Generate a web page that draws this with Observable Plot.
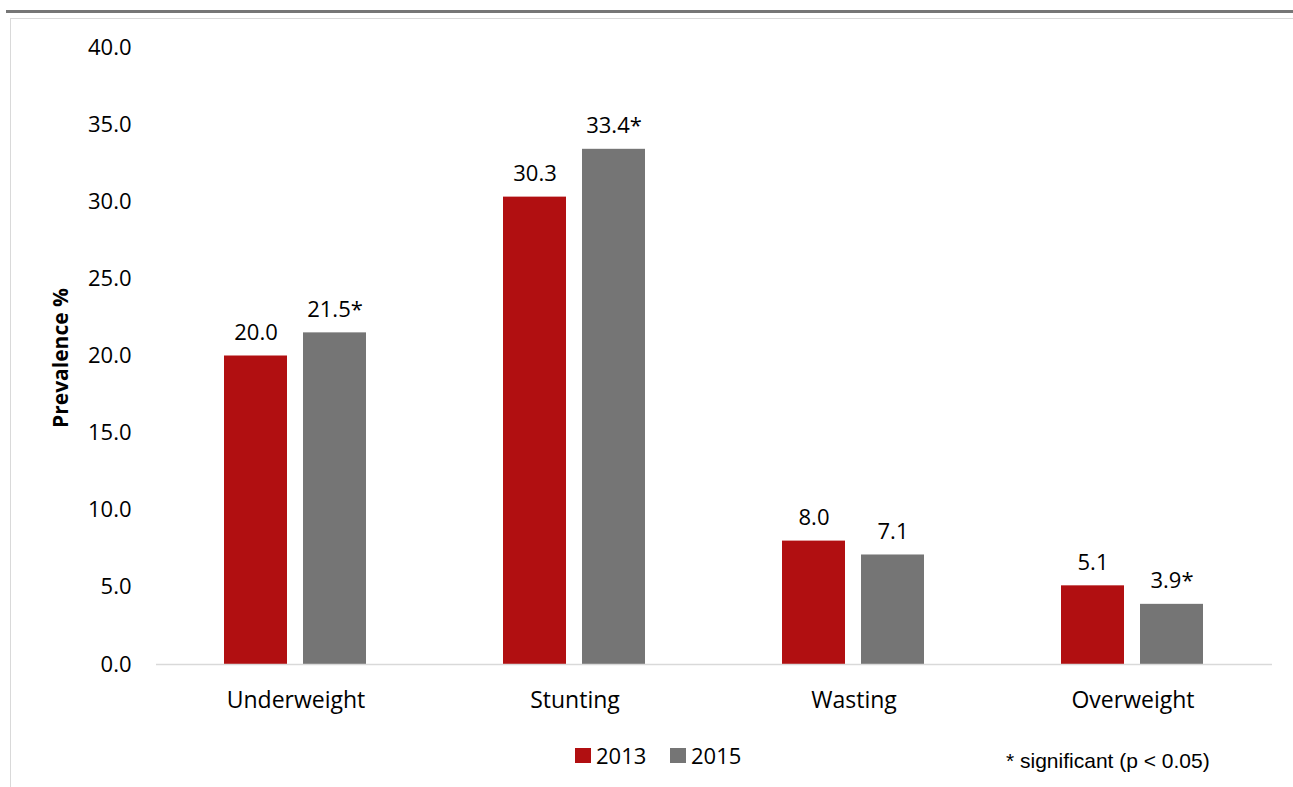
<!DOCTYPE html>
<html>
<head>
<meta charset="utf-8">
<script src="https://cdn.jsdelivr.net/npm/d3@7"></script>
<script src="https://cdn.jsdelivr.net/npm/@observablehq/plot@0.6"></script>
<style>
  html, body { margin: 0; padding: 0; background: #fff; }
  #wrap { position: relative; width: 1293px; height: 787px; overflow: hidden; font-family: "Open Sans", sans-serif; }
  #topline { position: absolute; left: 6px; right: 0; top: 10px; height: 2.5px; background: #767676; }
  #frame { position: absolute; left: 10px; right: -5px; top: 18px; bottom: -5px; border-left: 1.5px solid #d9d9d9; border-top: 1.5px solid #d9d9d9; }
  #chart { position: absolute; left: 0; top: 0; }
  .leg { position: absolute; font-size: 22px; color: #000; line-height: 1; }
  .sw { position: absolute; width: 16px; height: 15px; }
  #note { position: absolute; left: 1006px; top: 750px; font-family: "Liberation Sans", Arial, sans-serif; font-size: 21px; line-height: 1; color: #000; }
</style>
</head>
<body>
<div id="wrap">
  <div id="topline"></div>
  <div id="frame"></div>
  <div id="chart"></div>
  <div id="legend"></div>
  <div id="note"></div>
</div>
<script>
const categories = ["Underweight", "Stunting", "Wasting", "Overweight"];
const years = ["2013", "2015"];
const values2013 = [20.0, 30.3, 8.0, 5.1];
const values2015 = [21.5, 33.4, 7.1, 3.9];
const sig2013 = [false, false, false, false];
const sig2015 = [true, true, false, true];
const yTicks = [0, 5, 10, 15, 20, 25, 30, 35, 40];
const colors = ["#B10F11", "#757575"];
const yLabel = "Prevalence %";
const noteText = "* significant (p < 0.05)";

const data = [];
categories.forEach((c, i) => {
  data.push({category: c, year: years[0], value: values2013[i], sig: sig2013[i]});
  data.push({category: c, year: years[1], value: values2015[i], sig: sig2015[i]});
});

const chart = Plot.plot({
  width: 1293,
  height: 787,
  marginTop: 47,
  marginBottom: 123,
  marginLeft: 156,
  marginRight: 21,
  style: {fontFamily: "'Open Sans', sans-serif", fontSize: "22px", color: "#000", background: "transparent"},
  fx: {domain: categories, padding: 0, axis: "bottom", tickSize: 0, tickPadding: 27, label: null, fontSize: 23},
  x: {domain: years, axis: null, paddingInner: 0.2, paddingOuter: 0.855},
  y: {domain: [0, 40], ticks: yTicks, tickFormat: d => d.toFixed(1), tickSize: 0, tickPadding: 25, label: null},
  color: {domain: years, range: colors},
  marks: [
    Plot.barY(data, {fx: "category", x: "year", y: "value", fill: "year"}),
    Plot.ruleY([0], {stroke: "#d9d9d9", strokeWidth: 1.5}),
    Plot.text(data, {fx: "category", x: "year", y: "value", text: d => d.value.toFixed(1) + (d.sig ? "*" : ""), lineAnchor: "bottom", dy: -16, fontSize: 22, fill: "#000"})
  ]
});
document.getElementById("chart").appendChild(chart);

// enlarge category labels slightly
d3.select(chart).selectAll("[aria-label='fx-axis tick label'] text, g[aria-label='fx-axis tick label']").attr("font-size", 23);

// y label
const svg = d3.select(chart);
svg.append("text")
  .attr("transform", "translate(62,358) rotate(-90)")
  .attr("text-anchor", "middle")
  .attr("dominant-baseline", "middle")
  .attr("font-weight", "bold")
  .attr("font-size", 21)
  .attr("fill", "#000")
  .text(yLabel);

// legend
const legend = document.getElementById("legend");
const legX = [575, 670];
years.forEach((y, i) => {
  const sw = document.createElement("div");
  sw.className = "sw";
  sw.style.left = legX[i] + "px";
  sw.style.top = "748px";
  sw.style.background = colors[i];
  legend.appendChild(sw);
  const t = document.createElement("div");
  t.className = "leg";
  t.style.left = (legX[i] + 21) + "px";
  t.style.top = "744px";
  t.textContent = y;
  legend.appendChild(t);
});
document.getElementById("note").textContent = noteText;
</script>
</body>
</html>
